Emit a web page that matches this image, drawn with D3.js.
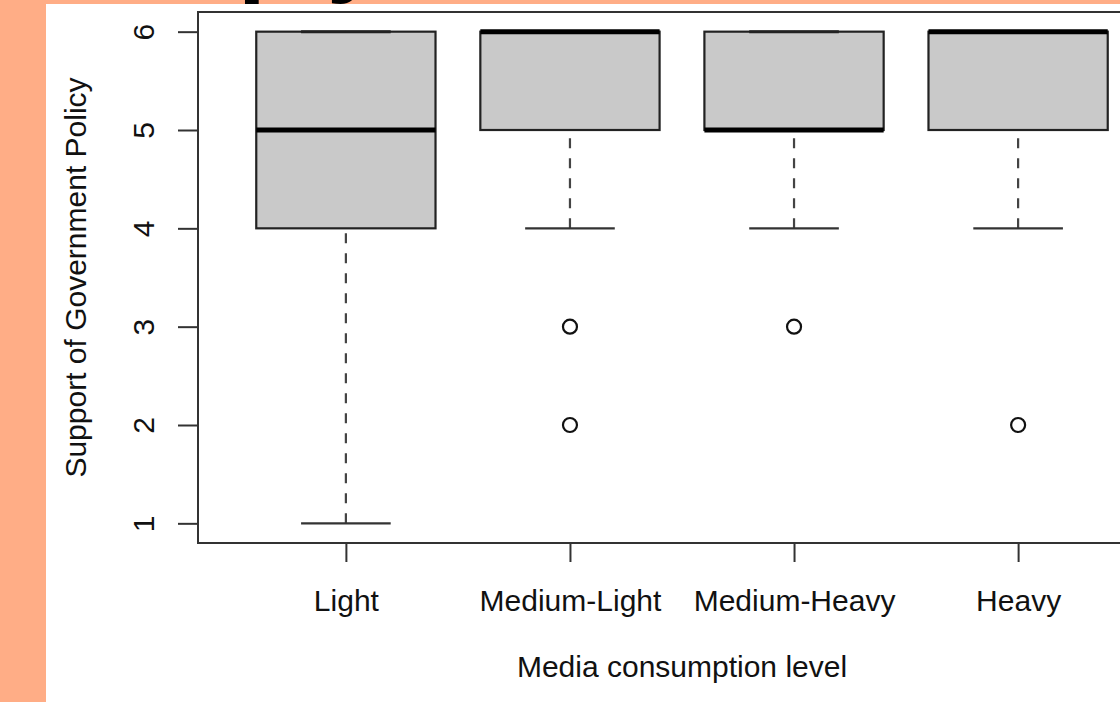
<!DOCTYPE html>
<html>
<head>
<meta charset="utf-8">
<script src="https://cdn.jsdelivr.net/npm/d3@7"></script>
<style>
  body { margin: 0; background: #ffad86; }
  svg { display: block; }
  text { font-family: "Liberation Sans", Arial, sans-serif; fill: #111; }
</style>
</head>
<body>
<div id="chart"></div>
<script>
// data
const categories = ["Light", "Medium-Light", "Medium-Heavy", "Heavy"];
const lowWhisker = [1, 4, 4, 4];
const q1 = [4, 5, 5, 5];
const medians = [5, 6, 5, 6];
const q3 = [6, 6, 6, 6];
const highWhisker = [6, 6, 6, 6];
const outliers = [[], [3, 2], [3], [2]];
const yTicks = [1, 2, 3, 4, 5, 6];

const width = 1120;
const height = 702;

const svg = d3.select("#chart")
    .append("svg")
    .attr("width", width)
    .attr("height", height);

// white panel over the salmon page
svg.append("rect")
    .attr("x", 46)
    .attr("y", 4)
    .attr("width", width - 46)
    .attr("height", height - 4)
    .style("fill", "#fff");

// cropped title, only the descenders peek in
svg.append("text")
    .attr("x", 238)
    .attr("y", -17)
    .style("font-size", "100px")
    .style("font-weight", "bold")
    .style("fill", "#000")
    .text("ply");

const x = d3.scaleLinear()
    .domain([0.34, 4.66])
    .range([198, 1166]);
const y = d3.scaleLinear()
    .domain([0.8, 6.2])
    .range([543, 12]);

const boxHalf = x(1.4) - x(1);
const capHalf = x(1.2) - x(1);

const g = svg.selectAll(".box")
    .data(categories)
    .enter()
    .append("g")
    .attr("class", "box");

// dashed whiskers
g.append("line")
    .attr("x1", (d, i) => x(i + 1))
    .attr("x2", (d, i) => x(i + 1))
    .attr("y1", (d, i) => y(lowWhisker[i]))
    .attr("y2", (d, i) => y(q1[i]))
    .style("stroke", "#444")
    .style("stroke-width", 2.2)
    .style("stroke-dasharray", "10,10");
g.append("line")
    .attr("x1", (d, i) => x(i + 1))
    .attr("x2", (d, i) => x(i + 1))
    .attr("y1", (d, i) => y(highWhisker[i]))
    .attr("y2", (d, i) => y(q3[i]))
    .style("stroke", "#444")
    .style("stroke-width", 2.2)
    .style("stroke-dasharray", "10,10");

// caps
g.append("line")
    .attr("x1", (d, i) => x(i + 1) - capHalf)
    .attr("x2", (d, i) => x(i + 1) + capHalf)
    .attr("y1", (d, i) => y(lowWhisker[i]))
    .attr("y2", (d, i) => y(lowWhisker[i]))
    .style("stroke", "#333")
    .style("stroke-width", 2.2);

// boxes
g.append("rect")
    .attr("x", (d, i) => x(i + 1) - boxHalf)
    .attr("width", boxHalf * 2)
    .attr("y", (d, i) => y(q3[i]))
    .attr("height", (d, i) => y(q1[i]) - y(q3[i]))
    .style("fill", "#c9c9c9")
    .style("stroke", "#222")
    .style("stroke-width", 2.2);

g.append("line")
    .attr("x1", (d, i) => x(i + 1) - capHalf)
    .attr("x2", (d, i) => x(i + 1) + capHalf)
    .attr("y1", (d, i) => y(highWhisker[i]))
    .attr("y2", (d, i) => y(highWhisker[i]))
    .style("stroke", "#222")
    .style("stroke-width", 3);

// medians
g.append("line")
    .attr("x1", (d, i) => x(i + 1) - boxHalf)
    .attr("x2", (d, i) => x(i + 1) + boxHalf)
    .attr("y1", (d, i) => y(medians[i]))
    .attr("y2", (d, i) => y(medians[i]))
    .style("stroke", "#000")
    .style("stroke-width", 5);

// outliers
g.selectAll("circle")
    .data((d, i) => outliers[i].map(v => ({i: i, v: v})))
    .enter()
    .append("circle")
    .attr("cx", d => x(d.i + 1))
    .attr("cy", d => y(d.v))
    .attr("r", 7)
    .style("fill", "none")
    .style("stroke", "#111")
    .style("stroke-width", 2.2);

// frame
svg.append("rect")
    .attr("x", 198)
    .attr("y", 12)
    .attr("width", 1166 - 198)
    .attr("height", 543 - 12)
    .style("fill", "none")
    .style("stroke", "#333")
    .style("stroke-width", 2);

// axes
const xAxis = svg.append("g")
    .attr("transform", "translate(0,543)")
    .call(d3.axisBottom(x)
        .tickValues([1, 2, 3, 4])
        .tickFormat(d => categories[d - 1])
        .tickSize(19)
        .tickSizeOuter(0));
xAxis.select(".domain").remove();
xAxis.selectAll("line").style("stroke", "#333").style("stroke-width", 2);
xAxis.selectAll("text")
    .attr("y", 68)
    .attr("dy", null)
    .style("font-size", "30px")
    .style("font-family", "'Liberation Sans', Arial, sans-serif")
    .style("fill", "#111");

const yAxis = svg.append("g")
    .attr("transform", "translate(198,0)")
    .call(d3.axisLeft(y)
        .tickValues(yTicks)
        .tickFormat(d3.format("d"))
        .tickSize(20)
        .tickSizeOuter(0));
yAxis.select(".domain").remove();
yAxis.selectAll("line").style("stroke", "#333").style("stroke-width", 2);
yAxis.selectAll("text")
    .attr("transform", "rotate(-90)")
    .attr("x", 0)
    .attr("y", -44)
    .attr("dy", null)
    .attr("text-anchor", "middle")
    .style("font-size", "30px")
    .style("font-family", "'Liberation Sans', Arial, sans-serif")
    .style("fill", "#111");

// axis titles
svg.append("text")
    .attr("x", (198 + 1166) / 2)
    .attr("y", 677)
    .attr("text-anchor", "middle")
    .style("font-size", "30px")
    .text("Media consumption level");

svg.append("text")
    .attr("transform", "translate(86," + y(3.5) + ") rotate(-90)")
    .attr("text-anchor", "middle")
    .style("font-size", "30px")
    .text("Support of Government Policy");
</script>
</body>
</html>
